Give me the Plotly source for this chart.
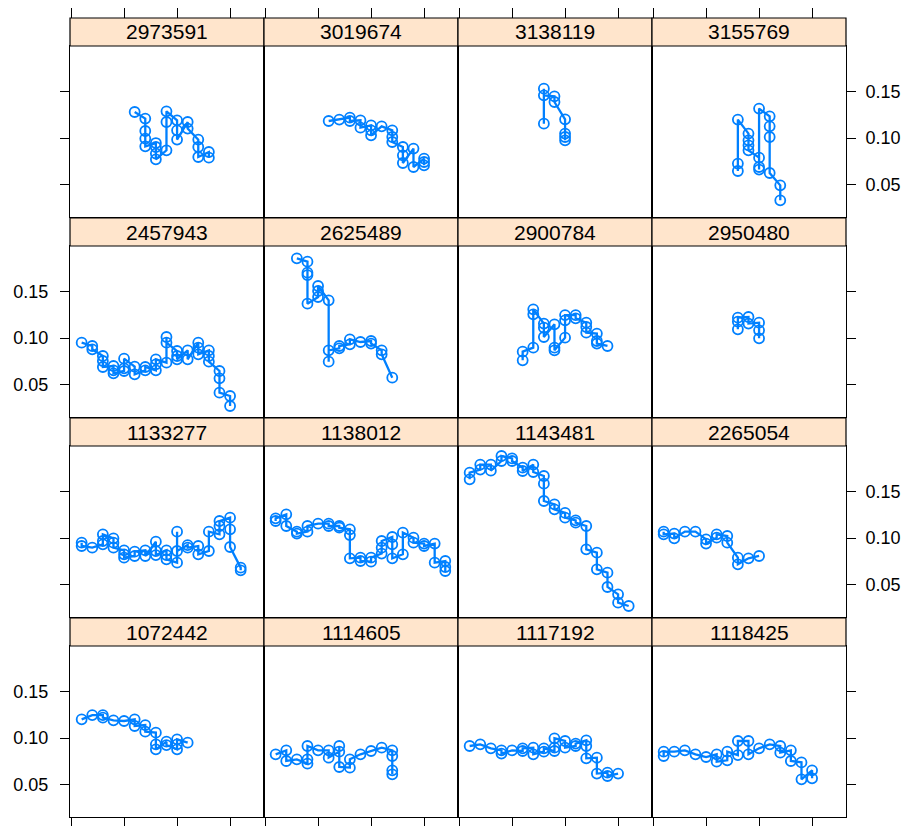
import plotly.graph_objects as go

# ---- data: yearly observations per company (several readings per year) ----
yr_2973591 = [6, 7, 7, 7, 7, 8, 8, 8, 8, 9, 9, 9, 10, 10, 10, 11, 11, 12, 12, 12, 13, 13]
rt_2973591 = [0.1281, 0.1210, 0.1076, 0.0994, 0.0910, 0.0946, 0.0903, 0.0832, 0.0770,
              0.0867, 0.1173, 0.1288, 0.1191, 0.1083, 0.0983, 0.1173, 0.1102,
              0.0983, 0.0903, 0.0795, 0.0849, 0.0788]

yr_3019674 = [6, 7, 8, 8, 9, 9, 10, 10, 10, 11, 12, 12, 12, 13, 13, 13, 14, 14, 15, 15, 15]
rt_3019674 = [0.1184, 0.1199, 0.1220, 0.1184, 0.1191, 0.1112, 0.1137, 0.1083, 0.1029,
              0.1126, 0.1083, 0.1011, 0.0957, 0.0903, 0.0813, 0.0730, 0.0886, 0.0687,
              0.0778, 0.0741, 0.0705]

yr_3138119 = [8, 8, 8, 9, 9, 10, 10, 10, 10]
rt_3138119 = [0.1155, 0.1533, 0.1461, 0.1450, 0.1389, 0.1202, 0.1048, 0.1011, 0.0975]

yr_3155769 = [8, 8, 8, 9, 9, 9, 9, 10, 10, 10, 10, 11, 11, 11, 11, 12, 12]
rt_3155769 = [0.0644, 0.0724, 0.1199, 0.1048, 0.0975, 0.0921, 0.0867, 0.0788, 0.0659,
              0.0687, 0.1318, 0.1234, 0.1126, 0.1011, 0.0622, 0.0489, 0.0327]

yr_2457943 = [1, 2, 2, 3, 3, 3, 4, 4, 4, 5, 5, 5, 6, 6, 7, 7, 8, 8, 8, 9, 9, 9,
              10, 10, 10, 11, 11, 12, 12, 12, 13, 13, 13, 14, 14, 14, 15, 15]
rt_2457943 = [0.0950, 0.0914, 0.0878, 0.0806, 0.0752, 0.0687, 0.0698, 0.0651, 0.0619,
              0.0644, 0.0673, 0.0777, 0.0691, 0.0608, 0.0651, 0.0687, 0.0651, 0.0716,
              0.0770, 0.0734, 0.1011, 0.0950, 0.0860, 0.0806, 0.0770, 0.0867, 0.0770,
              0.0950, 0.0896, 0.0824, 0.0867, 0.0806, 0.0745, 0.0644, 0.0565, 0.0410,
              0.0374, 0.0266]

yr_2625489 = [3, 4, 4, 4, 4, 5, 5, 5, 6, 6, 6, 7, 7, 8, 8, 9, 10, 10, 11, 11, 12]
rt_2625489 = [0.1861, 0.1825, 0.1706, 0.1680, 0.1371, 0.1443, 0.1508, 0.1562, 0.1407,
              0.0745, 0.0867, 0.0889, 0.0914, 0.0932, 0.0986, 0.0957, 0.0968, 0.0940,
              0.0867, 0.0824, 0.0572]

yr_2900784 = [6, 6, 7, 7, 7, 8, 8, 8, 9, 9, 9, 10, 10, 10, 11, 11, 12, 12, 12, 13, 13, 13, 14]
rt_2900784 = [0.0759, 0.0853, 0.0896, 0.1256, 0.1310, 0.1156, 0.1112, 0.1011, 0.1148,
              0.0896, 0.0867, 0.1004, 0.1191, 0.1248, 0.1248, 0.1213, 0.1166, 0.1119,
              0.1058, 0.1048, 0.0968, 0.0940, 0.0914]

yr_2950480 = [8, 8, 8, 9, 9, 10, 10, 10]
rt_2950480 = [0.1094, 0.1177, 0.1220, 0.1227, 0.1156, 0.1166, 0.1083, 0.0997]

yr_1133277 = [1, 1, 2, 3, 3, 3, 4, 4, 4, 5, 5, 5, 6, 6, 7, 7, 8, 8, 8, 9, 9, 9,
              10, 10, 10, 11, 11, 12, 12, 13, 13, 14, 14, 14, 15, 15, 15, 16, 16]
rt_1133277 = [0.0950, 0.0914, 0.0896, 0.0932, 0.0968, 0.1040, 0.0997, 0.0950, 0.0896,
              0.0867, 0.0824, 0.0788, 0.0806, 0.0853, 0.0867, 0.0806, 0.0961, 0.0860,
              0.0816, 0.0867, 0.0816, 0.0770, 0.0734, 0.1069, 0.0860, 0.0924, 0.0896,
              0.0914, 0.0824, 0.0860, 0.1069, 0.1040, 0.1130, 0.1184, 0.1220, 0.1094,
              0.0903, 0.0680, 0.0651]

yr_1138012 = [1, 1, 2, 2, 3, 3, 4, 4, 5, 6, 6, 7, 7, 8, 8, 8, 9, 9, 10, 10, 11, 11, 11,
              12, 12, 12, 13, 13, 14, 14, 15, 15, 16, 16, 17, 17, 17]
rt_1138012 = [0.1184, 0.1213, 0.1256, 0.1130, 0.1069, 0.1048, 0.1069, 0.1130, 0.1155,
              0.1155, 0.1130, 0.1130, 0.1112, 0.1094, 0.1032, 0.0781, 0.0788, 0.0752,
              0.0745, 0.0788, 0.0832, 0.0896, 0.0968, 0.1011, 0.0932, 0.0781, 0.0824,
              0.1058, 0.1004, 0.0950, 0.0940, 0.0914, 0.0940, 0.0734, 0.0752, 0.0687,
              0.0644]

yr_1143481 = [1, 1, 2, 2, 3, 3, 4, 4, 5, 5, 6, 6, 7, 7, 8, 8, 8, 9, 9, 10, 10,
              11, 11, 12, 12, 13, 13, 14, 14, 15, 15, 16]
rt_1143481 = [0.1634, 0.1706, 0.1739, 0.1793, 0.1793, 0.1728, 0.1832, 0.1886, 0.1861,
              0.1832, 0.1760, 0.1724, 0.1793, 0.1713, 0.1670, 0.1587, 0.1400, 0.1364,
              0.1310, 0.1271, 0.1220, 0.1191, 0.1166, 0.1130, 0.0878, 0.0842, 0.0662,
              0.0626, 0.0471, 0.0392, 0.0302, 0.0266]

yr_2265054 = [1, 1, 2, 2, 3, 4, 5, 5, 6, 6, 7, 7, 8, 8, 9, 10]
rt_2265054 = [0.1069, 0.1040, 0.1048, 0.0997, 0.1069, 0.1069, 0.0986, 0.0940, 0.1004,
              0.1040, 0.1022, 0.0950, 0.0788, 0.0716, 0.0781, 0.0806]

yr_1072442 = [1, 2, 3, 3, 4, 5, 6, 6, 7, 7, 8, 8, 8, 9, 9, 10, 10, 10, 11]
rt_1072442 = [0.1202, 0.1248, 0.1248, 0.1220, 0.1191, 0.1184, 0.1202, 0.1130, 0.1140,
              0.1069, 0.1058, 0.0932, 0.0878, 0.0961, 0.0924, 0.0878, 0.0932, 0.0986,
              0.0950]

yr_1114605 = [1, 2, 2, 3, 4, 4, 4, 5, 6, 6, 7, 7, 7, 8, 8, 9, 10, 11, 12, 12, 12, 12]
rt_1114605 = [0.0824, 0.0867, 0.0752, 0.0770, 0.0723, 0.0770, 0.0914, 0.0867, 0.0867,
              0.0788, 0.0853, 0.0914, 0.0687, 0.0680, 0.0770, 0.0824, 0.0860, 0.0896,
              0.0867, 0.0806, 0.0651, 0.0608]

yr_1117192 = [1, 2, 3, 4, 4, 5, 6, 6, 7, 7, 8, 8, 9, 9, 9, 10, 10, 11, 11, 12, 12, 12,
              13, 13, 14, 14, 15]
rt_1117192 = [0.0914, 0.0932, 0.0889, 0.0867, 0.0832, 0.0867, 0.0860, 0.0889, 0.0896,
              0.0824, 0.0853, 0.0889, 0.0860, 0.0896, 0.0997, 0.0968, 0.0896, 0.0914,
              0.0940, 0.0975, 0.0914, 0.0781, 0.0788, 0.0616, 0.0626, 0.0590, 0.0616]

yr_1118425 = [1, 1, 2, 3, 4, 5, 6, 6, 7, 7, 8, 8, 9, 9, 10, 11, 12, 12, 13, 13, 14, 14, 15, 15]
rt_1118425 = [0.0806, 0.0853, 0.0853, 0.0867, 0.0824, 0.0795, 0.0824, 0.0745, 0.0759,
              0.0853, 0.0816, 0.0968, 0.0968, 0.0824, 0.0889, 0.0932, 0.0914, 0.0842,
              0.0867, 0.0752, 0.0737, 0.0554, 0.0651, 0.0565]

# panels in display order, top row first
panels = [
    ("2973591", yr_2973591, rt_2973591), ("3019674", yr_3019674, rt_3019674),
    ("3138119", yr_3138119, rt_3138119), ("3155769", yr_3155769, rt_3155769),
    ("2457943", yr_2457943, rt_2457943), ("2625489", yr_2625489, rt_2625489),
    ("2900784", yr_2900784, rt_2900784), ("2950480", yr_2950480, rt_2950480),
    ("1133277", yr_1133277, rt_1133277), ("1138012", yr_1138012, rt_1138012),
    ("1143481", yr_1143481, rt_1143481), ("2265054", yr_2265054, rt_2265054),
    ("1072442", yr_1072442, rt_1072442), ("1114605", yr_1114605, rt_1114605),
    ("1117192", yr_1117192, rt_1117192), ("1118425", yr_1118425, rt_1118425),
]

year_ticks = [0, 5, 10, 15]
rate_ticks = [0.05, 0.10, 0.15]
rate_labels = ["0.05", "0.10", "0.15"]

# ---- layout geometry (pixels) ----
W, H = 909, 826
col_left = [70, 264, 458, 652]
panel_w = 194
row_top = [46, 246, 446, 646]
panel_h = 171
strip_h = 28
x_range = [-0.1, 18.2]
y_range = [0.0147, 0.1994]

BLUE = "#0080ff"
STRIP = "#FFE5CC"
FONT = "Liberation Sans, Arial, Helvetica, sans-serif"


def px_x(p):
    return p / W


def px_y(p):
    return 1 - p / H


fig = go.Figure()
layout = {}
shapes = []
annotations = []

axis_common = dict(showgrid=False, zeroline=False, showline=True, mirror=True,
                   linecolor="black", linewidth=1.2, tickcolor="black", tickwidth=1,
                   ticklen=9, fixedrange=True)

for k, (name, xs, ys) in enumerate(panels):
    r, c = divmod(k, 4)
    i = k + 1
    xid = "x" if i == 1 else f"x{i}"
    yid = "y" if i == 1 else f"y{i}"
    L = col_left[c]
    T = row_top[r]
    xdom = [px_x(L), px_x(L + panel_w)]
    ydom = [px_y(T + panel_h), px_y(T)]

    fig.add_trace(go.Scatter(
        x=xs, y=ys, mode="lines+markers", xaxis=xid, yaxis=yid,
        line=dict(color=BLUE, width=2.3),
        marker=dict(symbol="circle-open", size=10, color=BLUE, line=dict(width=1.8, color=BLUE)),
        showlegend=False, hoverinfo="x+y",
    ))

    layout["xaxis" if i == 1 else f"xaxis{i}"] = dict(
        axis_common, domain=xdom, range=x_range, anchor=yid,
        tickvals=year_ticks, showticklabels=False,
        ticks="outside" if r == 3 else "",
    )
    layout["yaxis" if i == 1 else f"yaxis{i}"] = dict(
        axis_common, domain=ydom, range=y_range, anchor=xid,
        tickvals=rate_ticks, ticktext=rate_labels,
        ticks="outside" if c == 0 else "",
        showticklabels=(c == 0 and r in (1, 3)),
        tickfont=dict(family=FONT, size=18, color="black"),
        ticklabelstandoff=8,
    )

    # right-hand rate axis on the last column
    if c == 3:
        j = 17 + r
        layout[f"yaxis{j}"] = dict(
            showgrid=False, zeroline=False, showline=False, fixedrange=True,
            overlaying=yid, anchor=xid, side="right", range=y_range,
            tickvals=rate_ticks, ticktext=rate_labels, ticks="outside",
            ticklen=9, tickcolor="black", tickwidth=1,
            showticklabels=(r in (0, 2)),
            tickfont=dict(family=FONT, size=18, color="black"),
            ticklabelstandoff=6,
        )
        fig.add_trace(go.Scatter(x=[None], y=[None], xaxis=xid, yaxis=f"y{j}",
                                 showlegend=False, hoverinfo="skip"))

    # year ticks above the strips of the top row
    if r == 0:
        j = 21 + c
        layout[f"xaxis{j}"] = dict(
            showgrid=False, zeroline=False, showline=False, fixedrange=True,
            overlaying=xid, anchor="free", position=px_y(T - strip_h), side="top",
            range=x_range, tickvals=year_ticks, showticklabels=False,
            ticks="outside", ticklen=10, tickcolor="black", tickwidth=1,
        )
        fig.add_trace(go.Scatter(x=[None], y=[None], xaxis=f"x{j}", yaxis=yid,
                                 showlegend=False, hoverinfo="skip"))

    # strip with the company id
    shapes.append(dict(type="rect", xref="paper", yref="paper",
                       x0=px_x(L), x1=px_x(L + panel_w),
                       y0=px_y(T), y1=px_y(T - strip_h),
                       fillcolor=STRIP, line=dict(color="black", width=1.2), layer="above"))
    annotations.append(dict(text=name, xref="paper", yref="paper",
                            x=px_x(L + panel_w / 2), y=px_y(T - strip_h / 2),
                            showarrow=False, xanchor="center", yanchor="middle",
                            font=dict(family=FONT, size=21, color="black")))

fig.update_layout(
    width=W, height=H, margin=dict(l=0, r=0, t=0, b=0),
    paper_bgcolor="white", plot_bgcolor="white",
    shapes=shapes, annotations=annotations, **layout,
)

fig.write_html("out.html")
